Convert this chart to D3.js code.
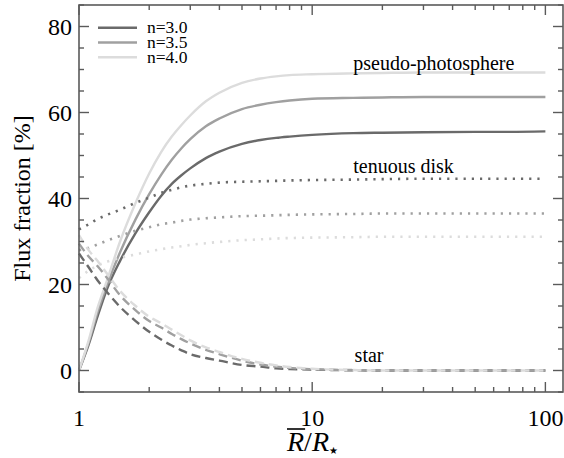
<!DOCTYPE html>
<html>
<head>
<meta charset="utf-8">
<script src="https://cdn.jsdelivr.net/npm/d3@7"></script>
<style>
html,body{margin:0;padding:0;background:#fff;}
svg{display:block;}
</style>
</head>
<body>
<svg id="chart" width="564" height="458" font-family="'Liberation Serif','Times New Roman',Times,'DejaVu Serif',serif"></svg>
<script>
// ---- data ----
const radii = [1, 1.1, 1.2, 1.32, 1.5, 1.75, 2, 2.25, 2.5, 2.75, 3, 3.5, 4, 5, 6, 7, 8, 10, 15, 20, 30, 50, 70, 100];

const photo_n30 = [0, 6, 12.5, 19, 25.5, 32, 36.8, 40.6, 43.4, 45.4, 47, 49.4, 50.9, 52.7, 53.6, 54.1, 54.4, 54.8, 55.2, 55.3, 55.4, 55.5, 55.5, 55.6];
const photo_n35 = [0, 6.5, 13.5, 20, 27.5, 35.2, 41, 45.5, 49, 51.7, 53.8, 56.8, 58.6, 60.8, 61.8, 62.4, 62.8, 63.2, 63.4, 63.5, 63.6, 63.6, 63.6, 63.6];
const photo_n40 = [0, 7, 14.5, 21, 30, 39, 45.8, 50.8, 54.4, 57.1, 59.3, 62.6, 64.6, 66.9, 67.9, 68.4, 68.7, 68.9, 69.1, 69.2, 69.3, 69.3, 69.3, 69.3];

const disk_n30 = [32.8, 34, 35.2, 36.2, 37.4, 39, 40.2, 41.3, 42, 42.6, 43, 43.4, 43.7, 43.9, 44, 44.1, 44.2, 44.3, 44.4, 44.5, 44.6, 44.6, 44.6, 44.6];
const disk_n35 = [28, 28.5, 29.3, 30.2, 31.3, 32.5, 33.3, 34, 34.4, 34.8, 35.1, 35.4, 35.6, 35.9, 36, 36.1, 36.2, 36.3, 36.4, 36.5, 36.5, 36.5, 36.5, 36.5];
const disk_n40 = [21.5, 23.2, 24.4, 25.3, 26.2, 27, 27.7, 28.2, 28.6, 28.9, 29.2, 29.6, 29.9, 30.3, 30.5, 30.7, 30.8, 30.9, 31, 31.1, 31.1, 31.1, 31.1, 31.1];

const star_n30 = [27.2, 24, 21, 18.2, 14.8, 11.5, 9, 7.2, 5.8, 4.7, 3.8, 2.9, 2.3, 1.3, 0.9, 0.5, 0.35, 0.2, 0.05, 0, 0, 0, 0, 0];
const star_n35 = [29.5, 26.5, 24.3, 21.5, 17.5, 14, 11.5, 10, 8.5, 7.3, 6.3, 4.8, 3.8, 2.3, 1.4, 0.9, 0.6, 0.3, 0.1, 0, 0, 0, 0, 0];
const star_n40 = [31.5, 28, 25.5, 22.5, 18.5, 15, 12.5, 11, 9.5, 8.2, 7, 5.4, 4.3, 2.7, 1.8, 1.2, 0.8, 0.4, 0.1, 0, 0, 0, 0, 0];

const seriesNames = ["n=3.0", "n=3.5", "n=4.0"];
const seriesColors = ["#6a6a6a", "#a0a0a0", "#dcdcdc"];

const yTicksMajor = [0, 20, 40, 60, 80];
const xTicksMajor = [1, 10, 100];
const xTickLabels = ["1", "10", "100"];

const annotations = [
  {text: "pseudo-photosphere", x: 15, y: 70},
  {text: "tenuous disk", x: 15, y: 46},
  {text: "star", x: 15.2, y: 2}
];

// ---- layout ----
const svg = d3.select("#chart");
const L = 79, R = 563, T = 5, B = 392;
const x = d3.scaleLog().domain([1, 119]).range([L, R]);
const y = d3.scaleLinear().domain([-5, 85]).range([B, T]);
const axisColor = "#5a5a5a";

// curves
const groups = [
  {data: [photo_n30, photo_n35, photo_n40], dash: null, w: 2.4},
  {data: [disk_n30, disk_n35, disk_n40], dash: "2.2,6", w: 2.6},
  {data: [star_n30, star_n35, star_n40], dash: "9,5", w: 2.4}
];
const line = d3.line().x(d => x(d[0])).y(d => y(d[1])).curve(d3.curveMonotoneX);
groups.forEach(g => {
  g.data.forEach((vals, i) => {
    const pts = radii.map((r, k) => [r, vals[k]]);
    svg.append("path")
      .attr("d", line(pts))
      .attr("fill", "none")
      .attr("stroke", seriesColors[i])
      .attr("stroke-width", g.w)
      .attr("stroke-dasharray", g.dash)
      .attr("stroke-linecap", "butt");
  });
});

// frame
svg.append("rect").attr("x", L).attr("y", T).attr("width", R - L).attr("height", B - T)
  .attr("fill", "none").attr("stroke", axisColor).attr("stroke-width", 1.6);

// y ticks (left & right)
d3.range(-5, 86, 5).forEach(v => {
  const len = v % 20 === 0 ? 10 : 5;
  svg.append("line").attr("x1", L).attr("x2", L + len).attr("y1", y(v)).attr("y2", y(v))
    .attr("stroke", axisColor).attr("stroke-width", 1.4);
  svg.append("line").attr("x1", R).attr("x2", R - len).attr("y1", y(v)).attr("y2", y(v))
    .attr("stroke", axisColor).attr("stroke-width", 1.4);
});
yTicksMajor.forEach(v => {
  svg.append("text").attr("x", L - 7).attr("y", y(v) + 8).attr("text-anchor", "end")
    .attr("font-size", 24).text(v);
});

// x ticks (bottom & top)
const xMinor = [];
[1, 10].forEach(dec => { for (let k = 2; k <= 9; k++) xMinor.push(dec * k); });
xMinor.forEach(v => {
  svg.append("line").attr("x1", x(v)).attr("x2", x(v)).attr("y1", B).attr("y2", B - 5)
    .attr("stroke", axisColor).attr("stroke-width", 1.4);
  svg.append("line").attr("x1", x(v)).attr("x2", x(v)).attr("y1", T).attr("y2", T + 5)
    .attr("stroke", axisColor).attr("stroke-width", 1.4);
});
xTicksMajor.forEach((v, i) => {
  svg.append("line").attr("x1", x(v)).attr("x2", x(v)).attr("y1", B).attr("y2", B - 10)
    .attr("stroke", axisColor).attr("stroke-width", 1.4);
  svg.append("line").attr("x1", x(v)).attr("x2", x(v)).attr("y1", T).attr("y2", T + 10)
    .attr("stroke", axisColor).attr("stroke-width", 1.4);
  svg.append("text").attr("x", x(v)).attr("y", 426).attr("text-anchor", "middle")
    .attr("font-size", 24).text(xTickLabels[i]);
});

// y label
svg.append("text").attr("transform", `translate(30,${(T + B) / 2}) rotate(-90)`)
  .attr("text-anchor", "middle").attr("font-size", 24).text("Flux fraction [%]");

// x label: R̄/R⋆
const xl = svg.append("text").attr("x", 287).attr("y", 451).attr("font-size", 28);
const rbar = xl.append("tspan").attr("font-style", "italic").text("R");
xl.append("tspan").text("/");
xl.append("tspan").attr("font-style", "italic").text("R");
xl.append("tspan").attr("font-size", 10).attr("dy", 3)
  .attr("font-family", "'DejaVu Sans',sans-serif").text("★");
const bb = rbar.node().getBBox();
svg.append("line").attr("x1", bb.x + 1).attr("x2", bb.x + bb.width + 1)
  .attr("y1", 429).attr("y2", 429).attr("stroke", "#000").attr("stroke-width", 1.6);

// annotations
annotations.forEach(a => {
  svg.append("text").attr("x", x(a.x)).attr("y", y(a.y)).attr("font-size", 20).text(a.text);
});

// legend
seriesNames.forEach((n, i) => {
  const ly = 27.7 + i * 14.8;
  svg.append("line").attr("x1", 98).attr("x2", 137).attr("y1", ly).attr("y2", ly)
    .attr("stroke", seriesColors[i]).attr("stroke-width", 2.6);
  svg.append("text").attr("x", 147).attr("y", ly + 5.5).attr("font-size", 17.5).text(n);
});
</script>
</body>
</html>
